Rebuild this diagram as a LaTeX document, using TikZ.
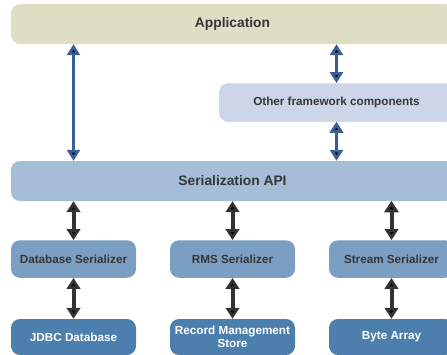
\documentclass[tikz,border=0pt]{standalone}
\usepackage{fontspec}
\setmainfont{Liberation Sans}
\usetikzlibrary{arrows.meta}

\definecolor{appgreen}{HTML}{DDDEC3}
\definecolor{otherblue}{HTML}{CDD6E8}
\definecolor{apiblue}{HTML}{A5BDD6}
\definecolor{serblue}{HTML}{7B9FC3}
\definecolor{storeblue}{HTML}{4D7FAE}
\definecolor{linkblue}{HTML}{3A5E98}
\definecolor{linkdark}{HTML}{333333}
\definecolor{textgray}{HTML}{363636}

\begin{document}
\begin{tikzpicture}[x=1pt,y=-1pt,
  box/.style={rectangle,rounded corners=9pt,inner sep=0pt,align=center,
    font=\bfseries\fontsize{11.7}{13.5}\selectfont,text=textgray},
  layer node/.style={box,minimum width=443pt,minimum height=40pt,
    font=\bfseries\fontsize{13.8}{16}\selectfont},
  part node/.style={box,minimum width=125pt,minimum height=37.5pt,fill=serblue},
  store node/.style={box,minimum width=125pt,minimum height=36pt,fill=storeblue,text=white},
  blue link/.style={{Triangle[width=13pt,length=11pt]}-{Triangle[width=13pt,length=11pt]},
    line width=3pt,draw=linkblue},
  dark link/.style={{Triangle[width=13.5pt,length=11pt]}-{Triangle[width=13.5pt,length=11pt]},
    line width=4pt,draw=linkdark}]

  \useasboundingbox (0,0) rectangle (447,354);

  \node[layer node,fill=appgreen] (app) at (232.5,24) {Application};
  \node[box,fill=otherblue,minimum width=235pt,minimum height=38.5pt] (other) at (336.5,102.5) {Other framework components};
  \node[layer node,fill=apiblue] (api) at (232.5,181) {Serialization API};

  \node[part node] (dbser) at (73.5,259) {Database Serializer};
  \node[part node] (rmsser) at (232.5,259) {RMS Serializer};
  \node[part node] (strser) at (391.5,259) {Stream Serializer};

  \node[store node] (jdbc) at (73.5,337) {JDBC Database};
  \node[store node] (rms) at (232.5,337) {Record Management\\Store};
  \node[store node] (bytes) at (391.5,337) {Byte Array};

  \path[blue link]
    (app.south -| dbser) edge (api.north -| dbser)
    (app.south -| other) edge (other.north)
    (other.south) edge (api.north -| other);

  \path[dark link]
    (api.south -| dbser) edge (dbser.north)
    (api.south -| rmsser) edge (rmsser.north)
    (api.south -| strser) edge (strser.north)
    (dbser) edge (jdbc)
    (rmsser) edge (rms)
    (strser) edge (bytes);
\end{tikzpicture}
\end{document}
